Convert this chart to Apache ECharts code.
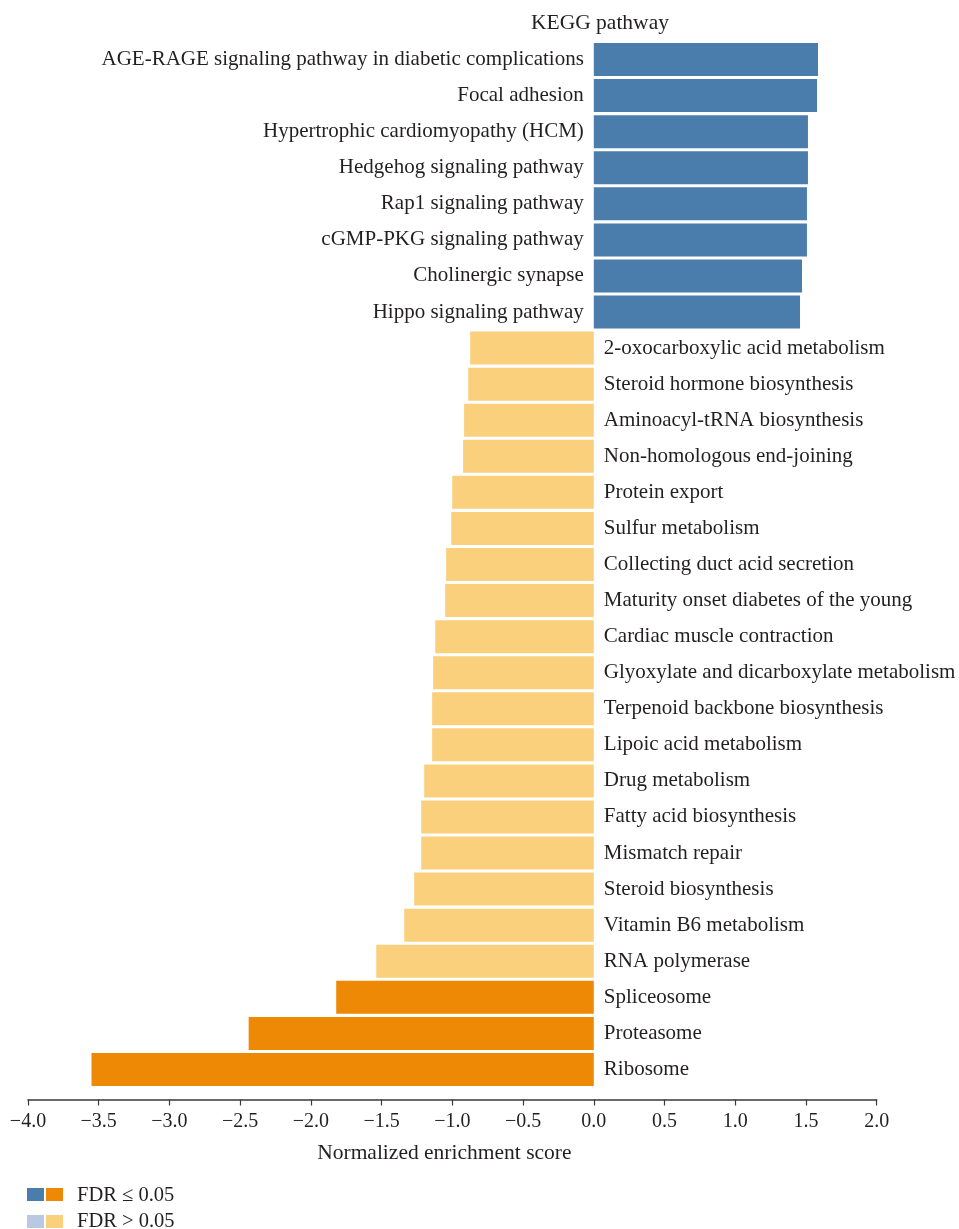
<!DOCTYPE html>
<html>
<head>
<meta charset="utf-8">
<title>KEGG pathway – normalized enrichment score</title>
<script src="https://cdn.jsdelivr.net/npm/echarts@6/dist/echarts.min.js"></script>
<style>
  html, body { margin: 0; padding: 0; background: #ffffff; }
  #chart { width: 959px; height: 1229px; }
</style>
</head>
<body>
<div id="chart"></div>
<script>
// KEGG pathways, top to bottom
const pathways = [
  'AGE-RAGE signaling pathway in diabetic complications',
  'Focal adhesion',
  'Hypertrophic cardiomyopathy (HCM)',
  'Hedgehog signaling pathway',
  'Rap1 signaling pathway',
  'cGMP-PKG signaling pathway',
  'Cholinergic synapse',
  'Hippo signaling pathway',
  '2-oxocarboxylic acid metabolism',
  'Steroid hormone biosynthesis',
  'Aminoacyl-tRNA biosynthesis',
  'Non-homologous end-joining',
  'Protein export',
  'Sulfur metabolism',
  'Collecting duct acid secretion',
  'Maturity onset diabetes of the young',
  'Cardiac muscle contraction',
  'Glyoxylate and dicarboxylate metabolism',
  'Terpenoid backbone biosynthesis',
  'Lipoic acid metabolism',
  'Drug metabolism',
  'Fatty acid biosynthesis',
  'Mismatch repair',
  'Steroid biosynthesis',
  'Vitamin B6 metabolism',
  'RNA polymerase',
  'Spliceosome',
  'Proteasome',
  'Ribosome'
];

// Normalized enrichment score per pathway
const nes = [
  1.585, 1.578, 1.514, 1.514, 1.507, 1.507, 1.472, 1.458,
  -0.874, -0.888, -0.917, -0.924, -1.001, -1.008, -1.044, -1.051,
  -1.121, -1.136, -1.143, -1.143, -1.199, -1.220, -1.220, -1.270,
  -1.340, -1.538, -1.821, -2.440, -3.551
];

// FDR <= 0.05 flag per pathway
const significant = [
  true, true, true, true, true, true, true, true,
  false, false, false, false, false, false, false, false,
  false, false, false, false, false, false, false, false,
  false, false, true, true, true
];

// Axis ticks
const xTicks = [-4.0, -3.5, -3.0, -2.5, -2.0, -1.5, -1.0, -0.5, 0.0, 0.5, 1.0, 1.5, 2.0];

const COLORS = {
  upSig: '#4a7dab',
  downSig: '#ee8905',
  upNs: '#b9c9e3',
  downNs: '#fbd07c'
};

const FONT = '"Liberation Serif", "DejaVu Serif", serif';
const TEXT = '#231f20';

function barColor(v, sig) {
  if (v >= 0) return sig ? COLORS.upSig : COLORS.upNs;
  return sig ? COLORS.downSig : COLORS.downNs;
}

const barData = nes.map((v, i) => ({
  value: v,
  itemStyle: { color: barColor(v, significant[i]) },
  label: { position: v >= 0 ? 'left' : 'right' }
}));

const chart = echarts.init(document.getElementById('chart'), null, { renderer: 'canvas' });

chart.setOption({
  backgroundColor: '#ffffff',
  animation: false,
  textStyle: { fontFamily: FONT, color: TEXT },
  title: {
    text: 'KEGG pathway',
    left: 526,
    top: 7,
    textStyle: { fontFamily: FONT, fontWeight: 'normal', fontSize: 21.5, color: TEXT }
  },
  grid: {
    left: 28,
    right: 82.3,
    top: 41.5,
    bottom: 141.5,
    containLabel: false
  },
  xAxis: {
    type: 'value',
    min: xTicks[0],
    max: xTicks[xTicks.length - 1],
    interval: 0.5,
    offset: 12,
    axisLine: { show: true, lineStyle: { color: '#3a3a3a', width: 1.5 } },
    axisTick: { show: true, length: 6, lineStyle: { color: '#3a3a3a', width: 1.2 } },
    splitLine: { show: false },
    axisLabel: {
      margin: 12,
      fontFamily: FONT,
      fontSize: 20,
      color: TEXT,
      formatter: v => (v < 0 ? '\u2212' : '') + Math.abs(v).toFixed(1)
    },
    name: 'Normalized enrichment score',
    nameLocation: 'middle',
    nameGap: 43,
    nameTextStyle: { fontFamily: FONT, fontSize: 21.5, color: TEXT, padding: [0, 16, 0, 0] }
  },
  yAxis: {
    type: 'category',
    data: pathways,
    inverse: true,
    axisLine: { show: false },
    axisTick: { show: false },
    axisLabel: { show: false },
    splitLine: { show: false }
  },
  series: [{
    type: 'bar',
    data: barData,
    barWidth: 33,
    label: {
      show: true,
      distance: 10,
      formatter: '{b}',
      fontFamily: FONT,
      fontSize: 21,
      color: TEXT
    }
  }],
  graphic: [
    { type: 'rect', left: 27, top: 1188, shape: { width: 17, height: 13 }, style: { fill: COLORS.upSig } },
    { type: 'rect', left: 46, top: 1188, shape: { width: 17, height: 13 }, style: { fill: COLORS.downSig } },
    { type: 'text', left: 77, top: 1185, style: { text: 'FDR \u2264 0.05', font: '20.5px ' + FONT, fill: TEXT } },
    { type: 'rect', left: 27, top: 1215, shape: { width: 17, height: 13 }, style: { fill: COLORS.upNs } },
    { type: 'rect', left: 46, top: 1215, shape: { width: 17, height: 13 }, style: { fill: COLORS.downNs } },
    { type: 'text', left: 77, top: 1211, style: { text: 'FDR > 0.05', font: '20.5px ' + FONT, fill: TEXT } }
  ]
});
</script>
</body>
</html>
